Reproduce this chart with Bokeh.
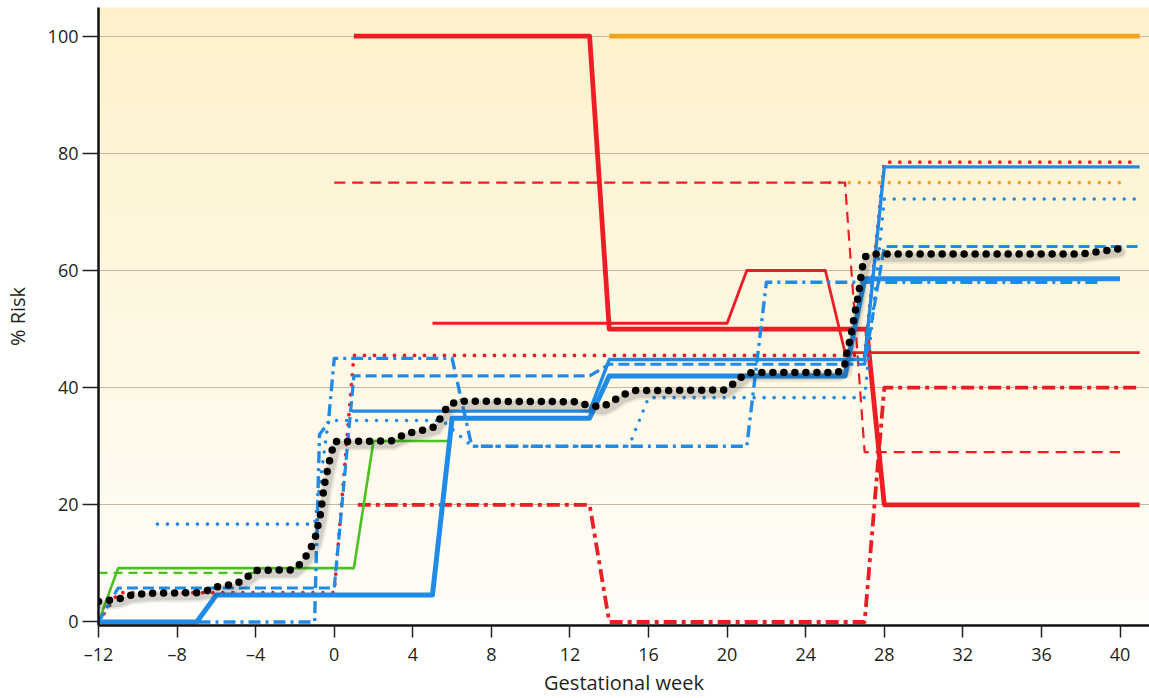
from bokeh.plotting import figure
from bokeh.models import Range1d, FixedTicker
from bokeh.embed import file_html
from bokeh.resources import INLINE

# ---------------- data ----------------
week_ticks = [-12, -8, -4, 0, 4, 8, 12, 16, 20, 24, 28, 32, 36, 40]
week_labels = ["\u201312", "\u20138", "\u20134", "0", "4", "8", "12", "16", "20", "24", "28", "32", "36", "40"]
risk_ticks = [0, 20, 40, 60, 80, 100]
grid_ticks = [20, 40, 60, 80, 100]

orange_solid_x = [14, 41]
orange_solid_y = [100, 100]
orange_dotted_x = [25.2, 40]
orange_dotted_y = [75, 75]

red_thick_x = [1, 13, 14, 27.1, 28, 41]
red_thick_y = [100, 100, 50, 50, 20, 20]
red_thin_x = [5, 20, 21, 25, 26, 41]
red_thin_y = [51, 51, 60, 60, 46, 46]
red_dashed_x = [0, 26, 27, 40]
red_dashed_y = [75, 75, 29, 29]
red_dotted_x = [-12, -11, 0, 1, 27, 28, 41]
red_dotted_y = [0, 5.0, 5.0, 45.5, 45.5, 78.5, 78.5]
red_dashdot_x = [1.2, 13, 14, 27, 28, 41]
red_dashdot_y = [20, 20, 0, 0, 40, 40]

blue_thick_x = [-12, -7, -6, 5, 6, 13, 14, 26, 27, 40]
blue_thick_y = [0, 0, 4.6, 4.6, 34.8, 34.8, 42, 42, 58.6, 58.6]
blue_solid_x = [0.9, 13, 14, 27, 28, 41]
blue_solid_y = [36, 36, 44.8, 44.8, 77.7, 77.7]
blue_dashed_x = [-12, -11, 0, 1, 13, 14, 27, 28, 41]
blue_dashed_y = [0, 5.8, 5.8, 42, 42, 44, 44, 64.1, 64.1]
blue_dotted_x = [-9, -1, -0.3, 5.5, 7, 15, 16, 27, 28, 41]
blue_dotted_y = [16.7, 16.7, 34.4, 34.4, 30, 30, 38.3, 38.3, 72.2, 72.2]
blue_dashdot_x = [-12, -1, -0.75, -0.3, 0, 6, 7, 21, 22, 39]
blue_dashdot_y = [0, 0, 32, 34, 45, 45, 30, 30, 58, 58]

green_solid_x = [-12, -11, 1, 2, 6]
green_solid_y = [0, 9.2, 9.2, 30.9, 30.9]
green_dashed_x = [-12, -3.6]
green_dashed_y = [8.4, 8.4]

black_x = [-12, -11, -10.5, -9.5, -7, -6.5, -6, -5, -4.5, -4, -2.1, -1.8, -1.4, -1.0, -0.7,
           -0.5, -0.25, 0, 2.9, 3.7, 4.6, 5.1, 5.45, 5.8, 6.3, 12.2, 12.9, 13.6, 14.1, 14.6,
           15.3, 19.9, 20.4, 20.9, 21.3, 25.6, 25.95, 26.1, 26.3, 26.5, 26.7, 26.85, 27.0,
           27.3, 38.0, 39.9]
black_y = [3.5, 3.9, 4.5, 4.9, 5.0, 5.3, 6.0, 6.5, 7.5, 8.8, 8.9, 9.7, 11.4, 13.9, 18.4,
           23.5, 27.4, 30.8, 30.9, 32.2, 32.8, 33.3, 35.0, 37.0, 37.7, 37.6, 37.0, 36.7, 37.5, 38.7,
           39.5, 39.6, 40.9, 42.3, 42.6, 42.6, 43.2, 46.0, 48.8, 52.7, 56.1, 60.0, 62.3,
           62.8, 62.8, 63.7]

# ---------------- styles ----------------
RED = "#EE1C24"
BLUE = "#1F8BE6"
GREEN = "#4CC01E"
ORANGE = "#F4A21C"
FONT = "Open Sans"

x0, x1 = -12, 41.5
y0, y1 = -0.6, 104.9

p = figure(width=1149, height=698, output_backend="svg", toolbar_location=None,
           x_range=Range1d(x0, x1), y_range=Range1d(y0, y1),
           min_border_left=98, min_border_right=0, min_border_top=7, min_border_bottom=65)
p.outline_line_color = None
p.background_fill_color = "white"
p.border_fill_color = "white"

# background gradient (cream at top to near-white at bottom)
n = 70
top_c = (254, 241, 202)
bot_c = (255, 253, 249)
bots, tops, cols = [], [], []
for i in range(n):
    b = y0 + (y1 - y0) * i / n
    t = y0 + (y1 - y0) * (i + 1) / n
    f = (i + 0.5) / n
    c = tuple(int(round(bot_c[k] + (top_c[k] - bot_c[k]) * f)) for k in range(3))
    bots.append(b)
    tops.append(t + (y1 - y0) / n * 0.3)
    cols.append("#%02x%02x%02x" % c)
p.quad(left=x0, right=x1, bottom=bots, top=tops, fill_color=cols, line_color=None, level="image")

# grid
p.xgrid.visible = False
p.ygrid.ticker = FixedTicker(ticks=grid_ticks)
p.ygrid.grid_line_color = "#C4B9A2"
p.ygrid.grid_line_width = 1

# axes
p.xaxis.ticker = FixedTicker(ticks=week_ticks)
p.xaxis.major_label_overrides = {t: l for t, l in zip(week_ticks, week_labels)}
p.yaxis.ticker = FixedTicker(ticks=risk_ticks)
for ax in (p.xaxis, p.yaxis):
    ax.minor_tick_line_color = None
    ax.major_tick_in = 0
    ax.axis_line_color = "#111111"
    ax.axis_line_width = 2.5
    ax.major_tick_line_color = "#222222"
    ax.major_tick_line_width = 1.5
    ax.major_label_text_font = FONT
    ax.major_label_text_font_size = "18px"
    ax.major_label_text_color = "#231F20"
    ax.axis_label_text_font = FONT
    ax.axis_label_text_font_size = "20px"
    ax.axis_label_text_font_style = "normal"
    ax.axis_label_text_color = "#231F20"
p.xaxis.major_tick_out = 12
p.xaxis.major_label_standoff = 4
p.xaxis.axis_label = "Gestational week"
p.xaxis.axis_label_standoff = 0
p.yaxis.major_tick_out = 16
p.yaxis.major_label_standoff = 4
p.yaxis.axis_label = "% Risk"
p.yaxis.axis_label_standoff = 14


def draw(xs, ys, color, width, dash="solid", cap="butt"):
    p.line(xs, ys, line_color=color, line_width=width, line_dash=dash,
           line_cap=cap, line_join="round")


# orange
draw(orange_solid_x, orange_solid_y, ORANGE, 4.8)
draw(orange_dotted_x, orange_dotted_y, ORANGE, 3.6, "0 10", "round")

# red
draw(red_thick_x, red_thick_y, RED, 4.8)
draw(red_thin_x, red_thin_y, RED, 2.8)
draw(red_dashed_x, red_dashed_y, RED, 2.2, "11 7")
draw(red_dotted_x, red_dotted_y, RED, 3.8, "0 10", "round")
draw(red_dashdot_x, red_dashdot_y, RED, 3.8, "13 5 4 5")

# green
draw(green_dashed_x, green_dashed_y, GREEN, 2.2, "9 6")
draw(green_solid_x, green_solid_y, GREEN, 2.6)

# blue
draw(blue_dashdot_x, blue_dashdot_y, BLUE, 3.4, "12 5 3 5")
draw(blue_dotted_x, blue_dotted_y, BLUE, 3.6, "0 10", "round")
draw(blue_dashed_x, blue_dashed_y, BLUE, 3.2, "11 5")
draw(blue_solid_x, blue_solid_y, BLUE, 3.4)
draw(blue_thick_x, blue_thick_y, BLUE, 5)

# black dotted curve with soft shadow
sh_x = [v + 0.12 for v in black_x]
sh_y = [v - 0.6 for v in black_y]
p.line(sh_x, sh_y, line_color="#2a2a2a", line_alpha=0.08, line_width=12, line_join="round", line_cap="round")
p.line(sh_x, sh_y, line_color="#2a2a2a", line_alpha=0.14, line_width=8, line_join="round", line_cap="round")
draw(black_x, black_y, "#000000", 7.5, "0 11", "round")

open("out.html", "w").write(file_html(p, INLINE))
